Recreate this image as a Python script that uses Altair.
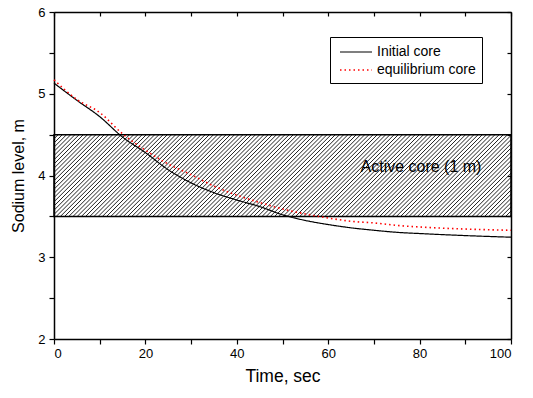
import altair as alt
import pandas as pd

# ---- data ----
time_initial = [0, 5, 10, 15, 20, 25, 30, 35, 40, 45, 50, 55, 60, 65, 70, 75, 80, 90, 100]
level_initial = [5.13, 4.92, 4.72, 4.47, 4.28, 4.07, 3.91, 3.79, 3.70, 3.62, 3.52, 3.45,
                 3.40, 3.36, 3.33, 3.305, 3.29, 3.265, 3.245]
time_equil = [0, 5, 10, 15, 20, 25, 30, 35, 40, 45, 50, 55, 60, 65, 70, 75, 80, 90, 100]
level_equil = [5.17, 4.93, 4.77, 4.51, 4.31, 4.14, 4.01, 3.87, 3.76, 3.67, 3.59, 3.53,
               3.48, 3.44, 3.42, 3.39, 3.37, 3.345, 3.33]
series_names = ["Initial core", "equilibrium core"]

core_bottom, core_top = 3.5, 4.5
core_label = "Active core (1 m)"

x_ticks = [0, 10, 20, 30, 40, 50, 60, 70, 80, 90, 100]
y_ticks = [2, 2.5, 3, 3.5, 4, 4.5, 5, 5.5, 6]

W, H = 457, 327
X_MIN, X_MAX, Y_MIN, Y_MAX = 0, 100, 2, 6

lines_df = pd.concat([
    pd.DataFrame({"t": time_initial, "v": level_initial, "s": series_names[0]}),
    pd.DataFrame({"t": time_equil, "v": level_equil, "s": series_names[1]}),
])

# hatch pattern (decoration): 45-degree strokes, ~4.2 px apart
px_per_x = W / (X_MAX - X_MIN)
px_per_y = H / (Y_MAX - Y_MIN)
span_x = (core_top - core_bottom) * px_per_y / px_per_x
step = 4.2 / px_per_x
hatch = []
x0 = -span_x
while x0 < X_MAX:
    hatch.append({"x": x0, "x2": x0 + span_x, "y": core_bottom, "y2": core_top})
    x0 += step
hatch_df = pd.DataFrame(hatch)

xs = alt.Scale(domain=[X_MIN, X_MAX], nice=False, zero=False)
ys = alt.Scale(domain=[Y_MIN, Y_MAX], nice=False, zero=False)

FONT = "Liberation Sans"

x_axis = alt.Axis(
    orient="bottom", title="Time, sec", values=x_ticks, format="d",
    labelExpr="datum.value % 20 === 0 ? datum.label : ''",
    tickSize=5,
    grid=False, titleFontSize=17.5, labelFontSize=13, titlePadding=7, labelPadding=3,
)
y_axis = alt.Axis(
    orient="left", title="Sodium level, m", values=y_ticks, format=".0f",
    labelExpr="datum.value % 1 === 0 ? datum.label : ''",
    tickSize=5,
    grid=False, titleFontSize=16, labelFontSize=13, titlePadding=11, labelPadding=4,
)

hatch_layer = alt.Chart(hatch_df).mark_rule(color="#222", strokeWidth=1, clip=True).encode(
    x=alt.X("x:Q", scale=xs, axis=x_axis), x2="x2:Q",
    y=alt.Y("y:Q", scale=ys, axis=y_axis), y2="y2:Q",
)

rect_layer = alt.Chart(pd.DataFrame({"x": [X_MIN], "x2": [X_MAX], "y": [core_bottom], "y2": [core_top]})).mark_rect(
    stroke="black", strokeWidth=1.5, fillOpacity=0
).encode(x=alt.X("x:Q", scale=xs, axis=None), x2="x2:Q",
         y=alt.Y("y:Q", scale=ys, axis=None), y2="y2:Q")

text_layer = alt.Chart(pd.DataFrame({"x": [80.3], "y": [4.1], "t": [core_label]})).mark_text(
    font=FONT, fontSize=16, color="black"
).encode(x=alt.X("x:Q", scale=xs, axis=None), y=alt.Y("y:Q", scale=ys, axis=None), text="t:N")

leg = dict(title=None, orient="none", legendX=276, legendY=25,
           symbolType="M-2,0L2,0", symbolSize=256, symbolStrokeWidth=1.5,
           symbolOffset=11, labelOffset=12,
           labelFontSize=14, labelFont=FONT, strokeColor="black",
           fillColor="white", padding=6, rowPadding=2, labelLimit=300)

line_layer = alt.Chart(lines_df).mark_line(interpolate="monotone").encode(
    x=alt.X("t:Q", scale=xs, axis=None),
    y=alt.Y("v:Q", scale=ys, axis=None),
    color=alt.Color("s:N", scale=alt.Scale(domain=series_names, range=["black", "red"]),
                    legend=alt.Legend(**leg)),
    strokeDash=alt.StrokeDash("s:N", scale=alt.Scale(domain=series_names, range=[[1, 0], [1.5, 3]]),
                              legend=alt.Legend(**leg)),
    strokeWidth=alt.StrokeWidth("s:N", scale=alt.Scale(domain=series_names, range=[1.2, 1.6]), legend=None),
    order="t:Q",
)

# mirrored top / right axes: ticks pointing inward, no labels
top_axis = alt.Chart(pd.DataFrame({"x": [X_MIN]})).mark_point(opacity=0).encode(
    x=alt.X("x:Q", scale=xs, axis=alt.Axis(orient="bottom", offset=-H, title=None, labels=False,
                                            grid=False, values=x_ticks, tickSize=4)),
)
right_axis = alt.Chart(pd.DataFrame({"y": [Y_MIN]})).mark_point(opacity=0).encode(
    y=alt.Y("y:Q", scale=ys, axis=alt.Axis(orient="left", offset=-W, title=None, labels=False,
                                            grid=False, values=y_ticks, tickSize=4)),
)

chart = alt.layer(hatch_layer, rect_layer, text_layer, line_layer, top_axis, right_axis).resolve_scale(
    x="shared", y="shared"
).resolve_axis(x="independent", y="independent").properties(
    width=W, height=H, autosize=alt.AutoSizeParams(type="none"),
    padding={"left": 54, "top": 12, "right": 22, "bottom": 59},
).configure_axis(
    labelFont=FONT, titleFont=FONT, labelColor="black", titleColor="black",
    domainColor="black", tickColor="black", domainWidth=1.5, tickWidth=1.2,
    titleFontWeight="normal",
).configure_view(stroke=None)

chart.save("out.html", embed_options={"renderer": "svg", "actions": False})
